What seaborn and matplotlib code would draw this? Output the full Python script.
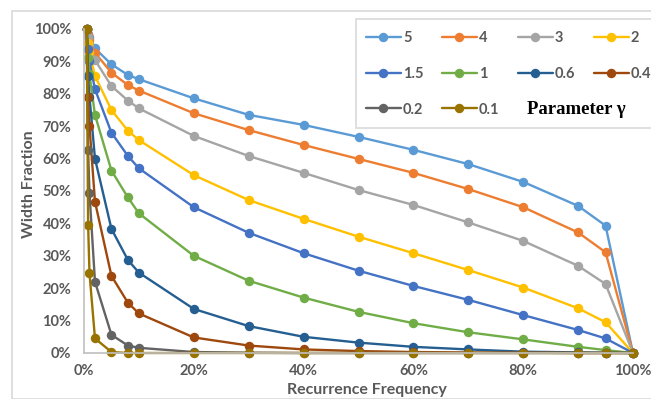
import numpy as np
import pandas as pd
import matplotlib
matplotlib.use("Agg")
import matplotlib.pyplot as plt
from matplotlib.lines import Line2D
from matplotlib.patches import Rectangle
from matplotlib.ticker import FuncFormatter
import seaborn as sns

# recurrence frequency (%) sampled along x
freq = [0.5, 0.75, 1, 2, 5, 8, 10, 20, 30, 40, 50, 60, 70, 80, 90, 95, 100]

# width fraction (%) per parameter gamma
w_5 = [100, 98.5, 97.5, 94, 89.1, 85.8, 84.5, 78.6, 73.5, 70.4, 66.7, 62.7, 58.3, 52.8, 45.4, 39.3, 0]
w_4 = [100, 98, 96.5, 92.7, 86.5, 82.7, 81, 74, 68.8, 64.2, 59.9, 55.6, 50.6, 45, 37.2, 31.1, 0]
w_3 = [100, 97.5, 95.5, 90.4, 82.4, 77.9, 75.5, 67, 60.8, 55.6, 50.3, 45.7, 40.3, 34.6, 26.9, 21.3, 0]
w_2 = [100, 95.6, 93, 85.5, 75, 68.6, 65.7, 54.9, 47.2, 41.4, 35.9, 30.8, 25.6, 20.2, 13.8, 9.5, 0]
w_15 = [100, 93.7, 90, 81.4, 68, 60.8, 57, 45, 37.1, 30.8, 25.4, 20.7, 16.4, 11.7, 7.1, 4.5, 0]
w_1 = [100, 91, 86, 73.5, 56.3, 48, 43.1, 30, 22.3, 17.1, 12.7, 9.2, 6.4, 4.2, 1.9, 0.9, 0]
w_06 = [100, 85.5, 79, 60, 38.3, 28.7, 24.8, 13.6, 8.3, 5.0, 3.2, 1.9, 1.1, 0.4, 0.2, 0.1, 0]
w_04 = [100, 79, 70, 46.7, 23.8, 15.5, 12.2, 4.8, 2.3, 1.1, 0.6, 0.3, 0.15, 0.1, 0, 0, 0]
w_02 = [100, 62.6, 49.3, 22, 5.6, 2.3, 1.6, 0.3, 0.1, 0, 0, 0, 0, 0, 0, 0, 0]
w_01 = [100, 39.4, 24.6, 4.5, 0.3, 0, 0, 0, 0, 0, 0, 0, 0, 0, 0, 0, 0]

gammas = ["5", "4", "3", "2", "1.5", "1", "0.6", "0.4", "0.2", "0.1"]
series = [w_5, w_4, w_3, w_2, w_15, w_1, w_06, w_04, w_02, w_01]
colors = ["#5B9BD5", "#ED7D31", "#A5A5A5", "#FFC000", "#4472C4",
          "#70AD47", "#255E91", "#9E480E", "#636363", "#997300"]

df = pd.DataFrame({
    "freq": np.tile(freq, len(gammas)),
    "width": np.concatenate(series),
    "gamma": np.repeat(gammas, len(freq)),
})

sns.set_theme(style="white")
plt.rcParams["font.family"] = ["Lato", "DejaVu Sans"]

W, H = 651, 399
fig = plt.figure(figsize=(W / 100, H / 100), dpi=100)
ax = fig.add_axes([84 / W, 1 - 353 / H, (633 - 84) / W, (353 - 29) / H])

# chart area border
fig.patches.append(Rectangle((12 / W, 0), 1, 1 - 11 / H, transform=fig.transFigure,
                             fill=False, edgecolor="#D9D9D9", linewidth=1.2))

sns.lineplot(data=df, x="freq", y="width", hue="gamma", hue_order=gammas,
             palette=colors, marker="o", markersize=6.8, markeredgewidth=0,
             linewidth=1.7, legend=False, ax=ax, clip_on=False)

ax.set_xlim(0, 100)
ax.set_ylim(0, 100)
ax.set_xticks(range(0, 101, 20))
ax.set_yticks(range(0, 101, 10))
ax.xaxis.set_major_formatter(FuncFormatter(lambda v, p: f"{v:.0f}%"))
ax.yaxis.set_major_formatter(FuncFormatter(lambda v, p: f"{v:.0f}%"))
ax.tick_params(axis="both", length=0, labelsize=10.5, labelcolor="#595959")
ax.tick_params(axis="x", pad=8)
ax.tick_params(axis="y", pad=9)
for lab in ax.get_xticklabels() + ax.get_yticklabels():
    lab.set_fontweight("bold")
for s in ["top", "right"]:
    ax.spines[s].set_visible(False)
for s in ["left", "bottom"]:
    ax.spines[s].set_color("#BFBFBF")
    ax.spines[s].set_linewidth(1.2)
ax.set_xlabel("Recurrence Frequency", fontsize=11.5, fontweight="bold",
              color="#595959")
ax.set_ylabel("Width Fraction", fontsize=11.5, fontweight="bold",
              color="#595959")
ax.xaxis.set_label_coords(0.516, -0.092)
ax.yaxis.set_label_coords(-0.087, 0.52)

# legend frame and entries
fig.patches.append(Rectangle((356 / W, 1 - 128 / H), 1, (128 - 19) / H,
                             transform=fig.transFigure, fill=True, facecolor="white",
                             edgecolor="#D9D9D9", linewidth=1.2, zorder=5))
handles = [Line2D([], [], color=c, marker="o", markersize=6.8, markeredgewidth=0,
                  linewidth=1.7) for c in colors]
order = [0, 4, 8, 1, 5, 9, 2, 6, 3, 7]
leg = fig.legend([handles[i] for i in order], [gammas[i] for i in order],
                 ncol=4, loc="upper left", bbox_to_anchor=(360 / W, 1 - 25 / H),
                 frameon=False, handlelength=2.4, handletextpad=0.15,
                 columnspacing=1.25, labelspacing=1.5, borderaxespad=0,
                 prop={"family": "Lato", "weight": "bold", "size": 10.5})
for t in leg.get_texts():
    t.set_color("#595959")
leg.set_zorder(6)
fig.text(527 / W, 1 - 109 / H, "Parameter γ", fontsize=13.5, fontweight="bold",
         family=["Liberation Serif", "DejaVu Serif"], color="black",
         va="center", ha="left", zorder=7)

fig.savefig("out.png", dpi=100)
